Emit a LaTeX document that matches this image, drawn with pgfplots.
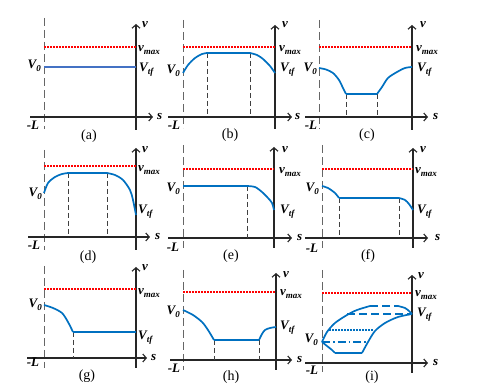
\documentclass[border=0pt]{standalone}
\usepackage{fontspec}
\setmainfont{Liberation Serif}
\usepackage{pgfplots}
\pgfplotsset{compat=1.18}
\usetikzlibrary{arrows.meta}
\definecolor{cblue}{RGB}{0,112,192}
\definecolor{ablue}{RGB}{68,114,196}
\tikzset{
 axl/.style={black!85, line width=1.1pt},
 axarr/.style={black!85, line width=1.1pt, -{Straight Barb[length=3.5pt,width=8pt]}},
 dashL/.style={black!60, line width=1pt, dash pattern=on 8pt off 4pt},
 innd/.style={black!75, line width=0.9pt, dash pattern=on 5pt off 3pt},
 vmx/.style={red, line width=1.1pt, dash pattern=on 1.5pt off 1.5pt},
 cur/.style={cblue, line width=1.7pt},
}
\newcommand{\lab}{\fontsize{13}{15}\selectfont\bfseries\itshape}
\newcommand{\sub}[1]{\raisebox{-0.45ex}{\fontsize{9}{10}\selectfont #1}}
\newcommand{\Vo}{{\lab V\sub{0}}}
\newcommand{\Vtf}{{\lab V\sub{tf}}}
\newcommand{\vmax}{{\lab v\sub{max}}}
\newcommand{\capl}[1]{{\fontsize{14}{16}\selectfont (#1)}}
% dx dtop dbot vx vtop vbot sy sleft sright
\newcommand{\pframe}[9]{%
 \addplot[dashL] coordinates {(#1,#2) (#1,#3)};
 \addplot[axarr] coordinates {(#4,#6) (#4,#5)};
 \addplot[axarr] coordinates {(#8,#7) (#9,#7)};
}
\begin{document}
\begin{tikzpicture}[every node/.append style={inner sep=0pt}]
\begin{axis}[scale only axis, width=488pt, height=390pt,
 xmin=0, xmax=488, ymin=0, ymax=390, y dir=reverse, hide axis, clip=false]
\path (axis cs:0,0) rectangle (axis cs:488,390);
% ---------- (a)
\pframe{44}{18}{129}{136}{24}{130}{117}{30}{153}
\addplot[vmx] coordinates {(44,47) (136,47)};
\addplot[ablue, line width=1.1pt] coordinates {(44,67) (136,67)};
\node[anchor=east] at (axis cs:41,66) {\Vo};
\node[anchor=west] at (axis cs:139,70) {\Vtf};
\node[anchor=west] at (axis cs:138,50) {\vmax};
\node[anchor=west] at (axis cs:142,25) {\lab v};
\node[anchor=west] at (axis cs:157,117) {\lab s};
\node at (axis cs:33,125) {\lab -L};
\node at (axis cs:89,136) {\capl{a}};
% ---------- (b)
\pframe{183}{20}{128}{275}{25}{129}{117}{168}{292}
\addplot[vmx] coordinates {(183,47) (275,47)};
\addplot[innd] coordinates {(207,53) (207,117)};
\addplot[innd] coordinates {(250,53) (250,117)};
\addplot[cur, smooth] coordinates {(183,73) (188,65) (195,58) (202,54) (207,53)};
\addplot[cur] coordinates {(207,53) (250,53)};
\addplot[cur, smooth] coordinates {(250,53) (257,55) (263,59) (270,66) (275,73)};
\node[anchor=east] at (axis cs:180,71) {\Vo};
\node[anchor=west] at (axis cs:280,70) {\Vtf};
\node[anchor=west] at (axis cs:279,50) {\vmax};
\node[anchor=west] at (axis cs:282,25) {\lab v};
\node[anchor=west] at (axis cs:295,117) {\lab s};
\node at (axis cs:174,125) {\lab -L};
\node at (axis cs:230,135) {\capl{b}};
% ---------- (c)
\pframe{319}{20}{129}{412}{25}{130}{117}{305}{428}
\addplot[vmx] coordinates {(319,47) (412,47)};
\addplot[innd] coordinates {(346,94) (346,117)};
\addplot[innd] coordinates {(377,94) (377,117)};
\addplot[cur, smooth] coordinates {(319,68) (326,69.5) (333,73) (339,80) (343,88) (346,94)};
\addplot[cur] coordinates {(346,94) (377,94)};
\addplot[cur, smooth] coordinates {(377,94) (382,87) (388,78) (397,72) (405,68) (412,67)};
\node[anchor=east] at (axis cs:317,69) {\Vo};
\node[anchor=west] at (axis cs:417,70) {\Vtf};
\node[anchor=west] at (axis cs:416,50) {\vmax};
\node[anchor=west] at (axis cs:420,25) {\lab v};
\node[anchor=west] at (axis cs:433,117) {\lab s};
\node at (axis cs:311,125) {\lab -L};
\node at (axis cs:367,135) {\capl{c}};
% ---------- (d)
\pframe{44}{150}{250}{136}{148}{250}{237}{28}{150}
\addplot[vmx] coordinates {(44,166) (136,166)};
\addplot[innd] coordinates {(68,173) (68,237)};
\addplot[innd] coordinates {(107,173) (107,237)};
\addplot[cur, smooth] coordinates {(44,193) (48,183) (55,177) (62,174) (68,173)};
\addplot[cur] coordinates {(68,173) (107,173)};
\addplot[cur, smooth] coordinates {(107,173) (115,175) (123,180) (130,190) (133,200) (136,215)};
\node[anchor=east] at (axis cs:42,194) {\Vo};
\node[anchor=west] at (axis cs:138,212) {\Vtf};
\node[anchor=west] at (axis cs:138,170) {\vmax};
\node[anchor=west] at (axis cs:142,150) {\lab v};
\node[anchor=west] at (axis cs:155,237) {\lab s};
\node at (axis cs:34,245) {\lab -L};
\node at (axis cs:88,257) {\capl{d}};
% ---------- (e)
\pframe{183}{145}{248}{274}{147}{248}{238}{168}{292}
\addplot[vmx] coordinates {(183,169) (274,169)};
\addplot[innd] coordinates {(247,186) (247,238)};
\addplot[cur] coordinates {(183,186) (247,186)};
\addplot[cur, smooth] coordinates {(247,186) (255,187) (262,192) (268,198) (272,203) (274,210)};
\node[anchor=east] at (axis cs:180,189) {\Vo};
\node[anchor=west] at (axis cs:280,212) {\Vtf};
\node[anchor=west] at (axis cs:279,172) {\vmax};
\node[anchor=west] at (axis cs:282,150) {\lab v};
\node[anchor=west] at (axis cs:297,238) {\lab s};
\node at (axis cs:173,247) {\lab -L};
\node at (axis cs:231,256) {\capl{e}};
% ---------- (f)
\pframe{322}{145}{248}{413}{148}{248}{238}{305}{428}
\addplot[vmx] coordinates {(322,169) (413,169)};
\addplot[innd] coordinates {(339,198) (339,238)};
\addplot[innd] coordinates {(399,198) (399,238)};
\addplot[cur, smooth] coordinates {(322,186) (328,188) (335,193) (339,198)};
\addplot[cur] coordinates {(339,198) (399,198)};
\addplot[cur, smooth] coordinates {(399,198) (405,200) (409,204) (413,210)};
\node[anchor=east] at (axis cs:319,189) {\Vo};
\node[anchor=west] at (axis cs:417,212) {\Vtf};
\node[anchor=west] at (axis cs:415,172) {\vmax};
\node[anchor=west] at (axis cs:420,150) {\lab v};
\node[anchor=west] at (axis cs:435,238) {\lab s};
\node at (axis cs:312,248) {\lab -L};
\node at (axis cs:368,256) {\capl{f}};
% ---------- (g)
\pframe{44}{266}{368}{136}{267}{368}{358}{27}{147}
\addplot[vmx] coordinates {(44,289) (136,289)};
\addplot[innd] coordinates {(73,332) (73,358)};
\addplot[cur, smooth] coordinates {(44,305) (53,308) (62,313) (68,322) (73,332)};
\addplot[cur] coordinates {(73,332) (136,332)};
\node[anchor=east] at (axis cs:42,305) {\Vo};
\node[anchor=west] at (axis cs:138,338) {\Vtf};
\node[anchor=west] at (axis cs:138,293) {\vmax};
\node[anchor=west] at (axis cs:142,268) {\lab v};
\node[anchor=west] at (axis cs:151,358) {\lab s};
\node at (axis cs:33,362) {\lab -L};
\node at (axis cs:87,376) {\capl{g}};
% ---------- (h)
\pframe{183}{270}{370}{276}{273}{370}{360}{170}{292}
\addplot[vmx] coordinates {(183,292) (276,292)};
\addplot[innd] coordinates {(214,340) (214,360)};
\addplot[innd] coordinates {(259,340) (259,360)};
\addplot[cur, smooth] coordinates {(183,310) (193,315) (202,322) (208,330) (214,340)};
\addplot[cur] coordinates {(214,340) (259,340)};
\addplot[cur, smooth] coordinates {(259,340) (262,334) (265,330) (270,328) (276,327)};
\node[anchor=east] at (axis cs:180,312) {\Vo};
\node[anchor=west] at (axis cs:280,328) {\Vtf};
\node[anchor=west] at (axis cs:280,294) {\vmax};
\node[anchor=west] at (axis cs:283,275) {\lab v};
\node[anchor=west] at (axis cs:297,360) {\lab s};
\node at (axis cs:174,368) {\lab -L};
\node at (axis cs:231,377) {\capl{h}};
% ---------- (i)
\pframe{322}{270}{372}{412}{275}{373}{363}{305}{428}
\addplot[vmx] coordinates {(322,293) (412,293)};
\addplot[cur, smooth] coordinates {(322,342) (327,332) (335,323) (347,315) (357,310) (370,306)};
\addplot[cur, dash pattern=on 8pt off 4pt] coordinates {(370,306) (398,306)};
\addplot[cur, smooth] coordinates {(398,306) (405,308) (409,311) (412,314)};
\addplot[cur, dash pattern=on 8pt off 4pt] coordinates {(347,314) (412,314)};
\addplot[cur, line width=1.3pt, dash pattern=on 1.5pt off 1.5pt] coordinates {(329,330) (374,330)};
\addplot[cur, dash pattern=on 8pt off 3pt on 1.5pt off 3pt] coordinates {(322,342) (367,342)};
\addplot[cur, smooth] coordinates {(322,342) (327,346) (332,350) (335,353)};
\addplot[cur] coordinates {(335,353) (362,353)};
\addplot[cur, smooth] coordinates {(362,353) (368,342) (375,331) (385,323) (398,317) (412,314)};
\node[anchor=east] at (axis cs:318,340) {\Vo};
\node[anchor=west] at (axis cs:417,315) {\Vtf};
\node[anchor=west] at (axis cs:415,295) {\vmax};
\node[anchor=west] at (axis cs:418,276) {\lab v};
\node[anchor=west] at (axis cs:433,363) {\lab s};
\node at (axis cs:312,370) {\lab -L};
\node at (axis cs:372,377) {\capl{i}};
\end{axis}
\end{tikzpicture}
\end{document}
